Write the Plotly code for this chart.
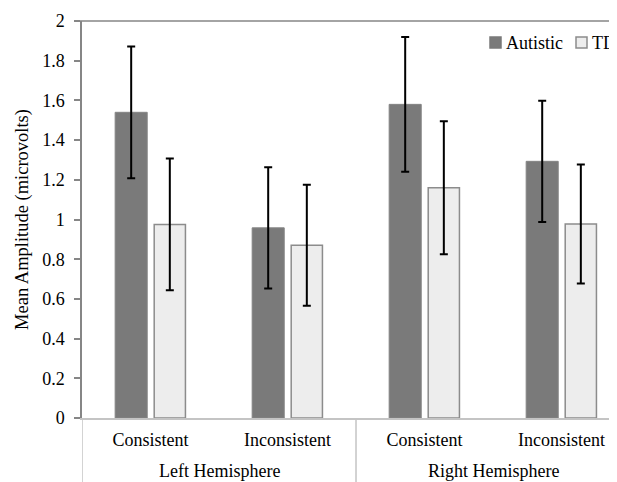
import plotly.graph_objects as go

hemispheres = ["Left Hemisphere", "Right Hemisphere"]
conditions = ["Consistent", "Inconsistent", "Consistent", "Inconsistent"]

autistic_mean = [1.54, 0.958, 1.58, 1.293]
autistic_err = [0.332, 0.305, 0.34, 0.305]

td_mean = [0.975, 0.87, 1.16, 0.977]
td_err = [0.332, 0.305, 0.335, 0.30]

y_ticks = [0, 0.2, 0.4, 0.6, 0.8, 1, 1.2, 1.4, 1.6, 1.8, 2]
y_ticklabels = ["0", "0.2", "0.4", "0.6", "0.8", "1", "1.2", "1.4", "1.6", "1.8", "2"]

FONT = "Liberation Serif, Times New Roman, serif"
FS = 18
positions = list(range(len(conditions)))

# The page body has an 8px default margin; layout numbers below are in window pixels
OFF = 8
WIN_W, WIN_H = 617, 482
FIG_W, FIG_H = WIN_W - OFF, WIN_H - OFF
L, R, T, B = 82, 617, 21, 418          # plot area in window pixels
PW, PH = R - L, B - T
def px(xp):
    return (xp - L) / PW
def py(yp):
    return (B - yp) / PH

fig = go.Figure()
fig.add_trace(go.Bar(
    name="Autistic", x=positions, y=autistic_mean,
    width=0.234, offset=-0.258,
    marker=dict(color="#7a7a7a", line=dict(color="#858585", width=1)),
    error_y=dict(type="data", array=autistic_err, color="#000000", thickness=2, width=4),
    showlegend=False,
))
fig.add_trace(go.Bar(
    name="TD", x=positions, y=td_mean,
    width=0.228, offset=0.027,
    marker=dict(color="#ededed", line=dict(color="#8c8c8c", width=1.5)),
    error_y=dict(type="data", array=td_err, color="#000000", thickness=2, width=4),
    showlegend=False,
))

fig.update_layout(
    width=FIG_W, height=FIG_H,
    margin=dict(l=L - OFF, r=WIN_W - R, t=T - OFF, b=WIN_H - B),
    paper_bgcolor="white", plot_bgcolor="white",
    font=dict(family=FONT, size=FS, color="#000000"),
    barmode="overlay",
)

fig.update_xaxes(
    range=[-0.5, 3.405],
    tickvals=positions, ticktext=conditions,
    showline=True, linecolor="#c4c4c4", linewidth=2,
    showgrid=False, ticks="", zeroline=False,
    ticklabelstandoff=4,
    tickfont=dict(family=FONT, size=FS),
    automargin=False,
)
fig.update_yaxes(
    range=[0, 2],
    tickvals=y_ticks, ticktext=y_ticklabels,
    showline=True, linecolor="#868686", linewidth=1.5,
    ticks="outside", ticklen=6, tickcolor="#868686", tickwidth=1.5,
    ticklabelstandoff=6,
    showgrid=False, zeroline=False,
    tickfont=dict(family=FONT, size=FS),
    title=dict(text="Mean Amplitude (microvolts)", font=dict(family=FONT, size=18.5), standoff=9),
    automargin=False,
)

# top frame line
fig.add_shape(type="line", xref="paper", yref="paper", x0=px(76), x1=1, y0=1, y1=1,
              line=dict(color="#868686", width=1.5))

# group dividers and group labels
for i, hemi in enumerate(hemispheres):
    left_edge = positions[2 * i] - 0.5
    fig.add_shape(type="line", xref="x", yref="paper", x0=left_edge, x1=left_edge,
                  y0=0, y1=py(482), line=dict(color="#c4c4c4", width=1.5))
    fig.add_annotation(x=(positions[2 * i] + positions[2 * i + 1]) / 2, xref="x",
                       y=py(471), yref="paper", text=hemi, showarrow=False,
                       font=dict(family=FONT, size=FS), yanchor="middle")

# legend
legend_items = [("Autistic", "#7a7a7a", "#7a7a7a", 490, 504), ("TD", "#ededed", "#8c8c8c", 576, 590)]
for name, fill, edge, sx, tx in legend_items:
    fig.add_shape(type="rect", xref="paper", yref="paper",
                  x0=px(sx), x1=px(sx + 11), y0=py(48), y1=py(37),
                  fillcolor=fill, line=dict(color=edge, width=1.5))
    fig.add_annotation(x=px(tx), xref="paper", y=py(42.5), yref="paper", text=name,
                       showarrow=False, xanchor="left", yanchor="middle",
                       font=dict(family=FONT, size=FS))

fig.write_html("out.html")
